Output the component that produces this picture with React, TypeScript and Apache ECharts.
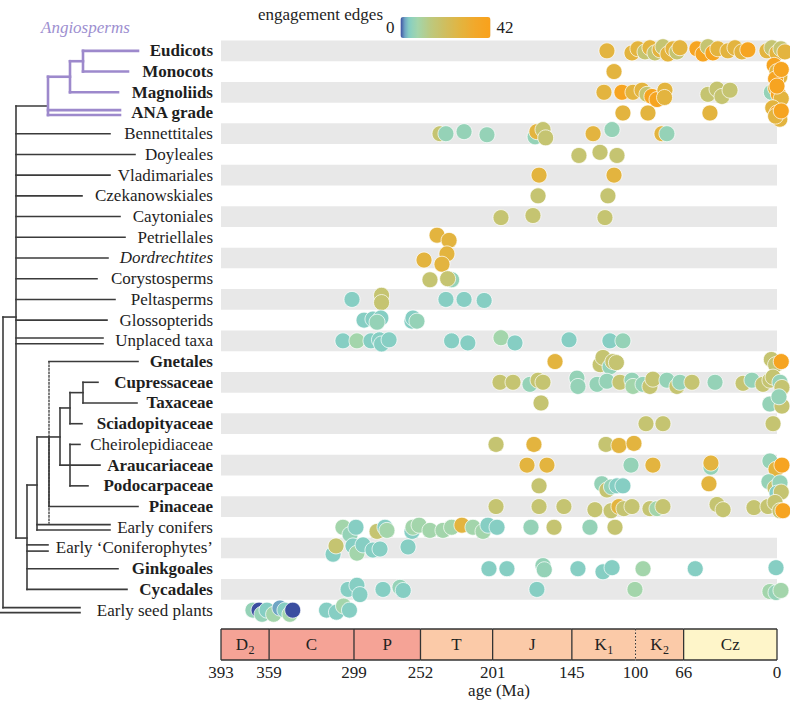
import React, { useEffect, useRef } from 'react';
import * as echarts from 'echarts';

// ---------- DATA ----------
const taxa = [
  'Eudicots', 'Monocots', 'Magnoliids', 'ANA grade', 'Bennettitales', 'Doyleales',
  'Vladimariales', 'Czekanowskiales', 'Caytoniales', 'Petriellales', 'Dordrechtites',
  'Corystosperms', 'Peltasperms', 'Glossopterids', 'Unplaced taxa', 'Gnetales',
  'Cupressaceae', 'Taxaceae', 'Sciadopityaceae', 'Cheirolepidiaceae', 'Araucariaceae',
  'Podocarpaceae', 'Pinaceae', 'Early conifers', 'Early \u2018Coniferophytes\u2019',
  'Ginkgoales', 'Cycadales', 'Early seed plants',
];
const taxaStyle = ['b', 'b', 'b', 'b', 'n', 'n', 'n', 'n', 'n', 'n', 'i', 'n', 'n', 'n', 'n',
  'b', 'b', 'b', 'b', 'n', 'b', 'b', 'b', 'n', 'n', 'b', 'b', 'n'];

// each point: [age (Ma), engagement edges, vertical jitter within row]
const eudicots = [[120.2, 28, 0], [102.5, 28, 0.1], [98.3, 28, -0.1], [93.3, 17, 0.05], [89.8, 28, -0.15], [86.3, 17, 0.1], [82.7, 28, -0.05], [80.6, 17, -0.2], [77.1, 28, 0.15], [73.5, 28, -0.1], [70.7, 17, 0.05], [68.6, 28, -0.15], [56.6, 39, -0.1], [52.3, 39, 0.15], [48.8, 17, -0.2], [45.3, 39, 0.1], [41.8, 28, -0.1], [34.7, 28, 0], [29.7, 28, -0.15], [24.8, 28, 0.05], [20.6, 39, -0.05], [7.1, 28, 0], [3.6, 17, -0.15], [0, 28, 0.1], [-2.8, 17, -0.1], [-5.6, 28, 0.05]];
const monocots = [[115.2, 28, 0], [2, 39, -0.3], [0, 28, 0], [-2, 28, 0.25], [1, 39, 0.35], [-3, 39, -0.1]];
const magnoliids = [[122.3, 28, 0], [109.6, 39, 0], [101.8, 28, 0], [95.4, 28, -0.1], [91.9, 17, 0.1], [88.4, 39, 0.2], [84.8, 39, 0.35], [79.2, 28, -0.1], [79.5, 28, 0.25], [48.8, 17, 0.1], [42.4, 17, -0.15], [38.9, 17, 0.2], [33.2, 17, -0.1], [4, 6, 0], [1, 28, -0.2], [-1, 39, 0.1], [-3, 28, 0.3], [0, 39, -0.3]];
const anaGrade = [[108.9, 28, 0], [91.2, 28, 0], [47.4, 28, 0], [3, 28, -0.25], [0, 39, 0], [-2, 28, 0.3], [1, 28, 0.15], [-3, 39, -0.1]];
const bennettitales = [[238.2, 17, 0], [234, 6, 0], [221.2, 6, -0.1], [205, 6, 0.05], [171, 6, 0.15], [169.7, 28, -0.1], [165.4, 17, -0.2], [163.5, 17, 0.2], [130, 28, 0], [116.6, 6, -0.2], [81.3, 28, 0], [77.8, 6, 0]];
const doyleales = [[140, 17, 0.05], [125.1, 17, -0.1], [113.1, 17, 0.05]];
const vladimariales = [[168.2, 28, 0], [115.2, 28, 0]];
const czekanowskiales = [[168.9, 17, 0], [119.5, 17, 0]];
const caytoniales = [[195.1, 17, 0.05], [172.5, 17, -0.05], [121.6, 17, 0.05]];
const petriellales = [[240.3, 28, -0.1], [231.8, 28, 0.15]];
const dordrechtites = [[249.5, 28, 0.1], [233.3, 28, -0.2], [236.8, 28, 0.3]];
const corystosperms = [[245.3, 17, 0.05], [230, 6, 0.05], [232.8, 17, 0]];
const peltasperms = [[300.4, 4, 0], [279.5, 17, -0.2], [279.5, 17, 0.15], [234, 4, 0], [221.2, 4, 0], [207, 4, 0.05]];
const glossopterids = [[291.9, 4, 0], [285.6, 4, -0.05], [280, 4, -0.1], [282.7, 6, 0.1], [258, 4, 0.05], [257.3, 4, -0.1], [254.5, 6, 0.05]];
const unplaced = [[306.8, 4, 0], [296.9, 8, 0], [287, 4, 0], [281, 4, -0.05], [279.5, 4, 0.15], [274.2, 4, -0.05], [230, 4, 0], [218.5, 4, 0.1], [195.1, 8, -0.15], [185.2, 4, 0.1], [147, 4, -0.05], [118.1, 4, 0], [108.9, 6, 0]];
const gnetales = [[156.9, 28, 0], [125, 17, 0.15], [123, 17, -0.2], [118, 6, 0.25], [116, 17, 0], [113.5, 17, 0.05], [4, 17, -0.1], [1, 17, 0.15], [-3, 39, 0]];
const cupressaceae = [[195.8, 17, 0], [186.6, 17, 0], [174.6, 6, 0.1], [168.9, 17, -0.1], [165.4, 17, 0], [141.4, 6, -0.2], [140.7, 6, 0.2], [127.2, 6, 0.1], [120.2, 6, -0.05], [111, 17, 0], [102.5, 6, -0.1], [101.8, 8, 0.2], [94.7, 6, 0.1], [89.8, 17, 0.2], [87.7, 17, -0.15], [77.8, 6, -0.1], [70.7, 17, 0.2], [68.6, 6, 0], [60.1, 17, 0], [43.8, 6, 0], [24, 17, 0.05], [17.7, 6, -0.1], [9.9, 17, 0.1], [5, 17, -0.1], [2.8, 17, -0.25], [-2.1, 6, 0], [-3.5, 17, 0.25]];
const taxaceae = [[166.8, 17, 0], [5, 6, 0.05], [-3.5, 17, 0.15], [-1.4, 6, -0.3]];
const sciadopityaceae = [[92.6, 17, 0], [80.6, 17, 0], [2.8, 17, 0]];
const cheirolepidiaceae = [[198.6, 17, 0], [171.8, 28, 0], [120.9, 17, 0], [111.7, 28, 0.05], [101.1, 28, -0.05]];
const araucariaceae = [[176.7, 28, 0], [162.6, 28, 0], [103.2, 6, 0], [87.7, 28, 0], [46.7, 6, 0.1], [46.7, 28, -0.1], [5, 6, -0.2], [0.7, 28, 0.2], [-3.5, 39, 0]];
const podocarpaceae = [[168.2, 17, 0], [123.8, 6, -0.1], [120.2, 17, 0.2], [117, 6, 0.05], [113.1, 4, 0], [108.9, 4, 0], [48.1, 28, -0.1], [5.7, 6, -0.2], [1.4, 17, 0.1], [-2.1, 6, -0.15], [0, 4, 0.35], [-3, 17, 0.3]];
const pinaceae = [[198.6, 17, 0], [168.2, 17, 0], [150.6, 17, 0], [128.7, 17, 0.15], [117.3, 17, 0.2], [111.7, 28, 0], [108.2, 17, 0.1], [102.5, 17, 0], [89.8, 17, 0.1], [84.8, 8, 0.1], [80.6, 17, 0], [42.4, 17, -0.1], [38.1, 17, 0.15], [16.3, 17, 0.05], [6.4, 17, 0], [1.4, 17, -0.2], [-2.1, 17, 0.2], [-4.2, 39, 0.2]];
const earlyConifers = [[306.8, 8, 0], [301.8, 6, 0.35], [297.6, 4, 0], [282.7, 17, 0.2], [277.1, 4, 0], [275.7, 8, 0.15], [258, 4, 0.2], [257.3, 8, 0], [253, 8, -0.1], [245.3, 8, 0.15], [236.1, 8, 0.15], [230, 8, 0], [222.7, 28, -0.1], [214.9, 8, 0], [207.8, 8, 0.2], [204.3, 4, -0.1], [197.9, 4, 0], [173.9, 6, 0], [157.6, 17, 0], [132.2, 6, 0], [114.5, 17, 0]];
const earlyConiferophytes = [[313.8, 4, 0.3], [311.7, 17, -0.1], [299.7, 4, -0.1], [296.9, 8, 0.25], [292.6, 4, -0.15], [285.6, 4, 0.1], [280.6, 4, 0.05], [260.8, 4, -0.05]];
const ginkgoales = [[203.6, 4, 0], [190.9, 4, 0], [165.4, 6, -0.15], [164.5, 6, 0.05], [140.7, 4, 0], [123, 4, 0.15], [116.6, 4, -0.05], [94.7, 8, 0], [57.8, 4, 0], [0.7, 4, -0.05]];
const cycadales = [[303.2, 4, 0], [296.9, 4, -0.2], [294.8, 4, 0.25], [278.5, 4, 0], [266.5, 6, -0.1], [264.2, 4, 0.05], [169.7, 4, 0], [100.4, 8, 0], [5, 8, 0.1], [0.7, 6, 0.15], [-2.8, 8, 0.05]];
const earlySeedPlants = [[370.4, 6, 0], [366.1, 0, 0], [364, 6, 0.2], [360.5, 4, 0], [355.8, 8, 0.2], [351.3, 2, -0.1], [347.8, 4, 0], [344.3, 8, 0.2], [342.3, 0, 0], [318.4, 4, 0], [311.4, 4, 0.1], [306.4, 8, -0.2], [302.2, 4, 0]];

const rowPoints = [eudicots, monocots, magnoliids, anaGrade, bennettitales, doyleales,
  vladimariales, czekanowskiales, caytoniales, petriellales, dordrechtites, corystosperms,
  peltasperms, glossopterids, unplaced, gnetales, cupressaceae, taxaceae, sciadopityaceae,
  cheirolepidiaceae, araucariaceae, podocarpaceae, pinaceae, earlyConifers,
  earlyConiferophytes, ginkgoales, cycadales, earlySeedPlants];

const periodNames = ['D', 'C', 'P', 'T', 'J', 'K', 'K', 'Cz'];
const periodSubs = ['2', '', '', '', '', '1', '2', ''];
const periodStart = [393, 359, 299, 252, 201, 145, 100, 66];
const periodEnd = [359, 299, 252, 201, 145, 100, 66, 0];
const periodColors = ['#f5a396', '#f5a396', '#f5a396', '#fbcaa8', '#fbcaa8', '#fbcaa8', '#fbcaa8', '#fef5c9'];
const periodDashedLeft = [false, false, false, false, false, false, true, false];
const ageTicks = [393, 359, 299, 252, 201, 145, 100, 66, 0];
const edgeMin = 0;
const edgeMax = 42;
const colorStops: [number, string][] = [[0, '#3b4ea0'], [2, '#6fa5c4'], [4, '#86cec3'], [8, '#a3d5ab'], [14, '#bcc97f'], [20, '#cdbf62'], [28, '#e3b43f'], [35, '#f2a82a'], [42, '#f9a11b']];

// ---------- LAYOUT ----------
const W = 790;
const H = 708;
const GL = 221;
const GR = 13;
const GT = 40.5;
const ROW_H = 20.714;
const GH = ROW_H * 28;
const TS_TOP = 629;
const TS_H = 31;
const FONT = '"Liberation Serif", "Times New Roman", serif';
const TREE_DARK = '#3b3b3b';
const TREE_PURPLE = '#9d89cc';

const rowY = (r: number) => GT + (r + 0.5) * ROW_H;

// tree segments: [x1, row1, x2, row2]
const purpleSegs = [[83, 0, 138, 0], [83, 1, 128, 1], [83, 0, 83, 1], [70, 0.5, 83, 0.5], [70, 2, 118, 2], [70, 0.5, 70, 2], [48, 1.25, 70, 1.25], [48, 2.86, 120, 2.86], [48, 3.1, 120, 3.1], [48, 1.25, 48, 3.1]];
const darkSegs = [
  [16, 2.66, 48, 2.66], [16, 2.66, 16, 23.52],
  [16, 4, 110, 4], [16, 5, 135, 5], [16, 6, 110, 6], [16, 7, 82, 7], [16, 8, 120, 8], [16, 9, 125, 9], [16, 10, 108, 10], [16, 11, 97, 11], [16, 12, 115, 12], [16, 13, 107, 13],
  [16, 13.86, 103, 13.86], [16, 14.14, 103, 14.14],
  [3, 12.85, 16, 12.85], [3, 12.85, 3, 26.88], [3, 26.88, 80, 26.88], [0, 27.12, 80, 27.12],
  [16, 23.52, 27, 23.52], [27, 20.96, 27, 26], [27, 23.85, 48, 23.85], [27, 24.15, 48, 24.15], [27, 25, 118, 25], [27, 26, 127, 26],
  [27, 20.96, 37, 20.96], [37, 18.64, 37, 23.13], [37, 22.87, 110, 22.87], [37, 23.13, 110, 23.13],
  [37, 18.64, 60, 18.64], [49, 18.64, 49, 22], [49, 22, 138, 22], [49, 15, 138, 15],
  [60, 17.24, 60, 20], [60, 17.24, 70, 17.24], [70, 16.5, 70, 18], [70, 16.5, 83, 16.5], [83, 16, 83, 17], [83, 16, 98, 16], [83, 17, 137, 17], [70, 18, 82, 18],
  [60, 20, 100, 20], [70, 19, 70, 21], [70, 19, 80, 19], [70, 21, 88, 21],
];
const dottedSegs = [[49, 15, 49, 22.8]];

function hexToRgb(h: string) {
  const n = parseInt(h.slice(1), 16);
  return [(n >> 16) & 255, (n >> 8) & 255, n & 255];
}
function buildColors() {
  const out: string[] = [];
  for (let v = edgeMin; v <= edgeMax; v++) {
    let i = 0;
    while (i < colorStops.length - 2 && v > colorStops[i + 1][0]) i++;
    const [v0, c0] = colorStops[i];
    const [v1, c1] = colorStops[i + 1];
    const t = Math.max(0, Math.min(1, (v - v0) / (v1 - v0)));
    const a = hexToRgb(c0), b = hexToRgb(c1);
    const c = a.map((x, k) => Math.round(x + (b[k] - x) * t));
    out.push(`rgb(${c[0]},${c[1]},${c[2]})`);
  }
  return out;
}

function segLines(segs: number[][], stroke: string, lw: number, dash?: number[]) {
  return segs.map(([x1, r1, x2, r2]) => ({
    type: 'line',
    shape: { x1, y1: rowY(r1), x2, y2: rowY(r2) },
    style: { stroke, lineWidth: lw, lineDash: dash, lineCap: 'square' },
    silent: true,
  }));
}

export default function App() {
  const ref = useRef<HTMLDivElement>(null);
  useEffect(() => {
    if (!ref.current) return;
    const chart = echarts.init(ref.current, undefined, { renderer: 'svg' });

    const scatterData: number[][] = [];
    rowPoints.forEach((pts, r) => {
      pts.forEach(([age, edges, dy]) => scatterData.push([age, r + dy, edges]));
    });
    const periodData = periodStart.map((s, i) => [s, periodEnd[i], i]);

    const option: any = {
      animation: false,
      grid: [
        { left: GL, right: GR, top: GT, height: GH, outerBoundsMode: 'none', containLabel: false },
        { left: GL, right: GR, top: TS_TOP, height: TS_H, outerBoundsMode: 'none', containLabel: false },
      ],
      xAxis: [
        { gridIndex: 0, type: 'value', inverse: true, min: 0, max: 393, show: false },
        {
          gridIndex: 1, type: 'value', inverse: true, min: 0, max: 393,
          axisLine: { show: false }, axisTick: { show: false }, splitLine: { show: false },
          axisLabel: {
            customValues: ageTicks, showMinLabel: true, showMaxLabel: true,
            fontFamily: FONT, fontSize: 17, color: '#222', margin: 4,
          },
          name: 'age (Ma)', nameLocation: 'middle', nameGap: 22,
          nameTextStyle: { fontFamily: FONT, fontSize: 17, color: '#222' },
        },
      ],
      yAxis: [
        { gridIndex: 0, type: 'value', inverse: true, min: -0.5, max: 27.5, show: false, position: 'right' },
        {
          gridIndex: 0, type: 'category', data: taxa, inverse: true, position: 'left',
          axisLine: { show: false }, axisTick: { show: false }, splitLine: { show: false },
          splitArea: { show: true, areaStyle: { color: ['#e8e8e8', 'rgba(255,255,255,0)'] } },
          axisLabel: {
            interval: 0, margin: 8,
            formatter: (v: string, i: number) => `{${taxaStyle[i]}|${v}}`,
            rich: {
              n: { fontFamily: FONT, fontSize: 17, color: '#1e1e1e' },
              b: { fontFamily: FONT, fontSize: 17, color: '#1e1e1e', fontWeight: 'bold' },
              i: { fontFamily: FONT, fontSize: 17, color: '#1e1e1e', fontStyle: 'italic' },
            },
          },
        },
        { gridIndex: 1, type: 'value', min: 0, max: 1, show: false },
      ],
      visualMap: {
        type: 'continuous', orient: 'horizontal', seriesIndex: 0, dimension: 2,
        min: edgeMin, max: edgeMax, calculable: false,
        left: 371, top: 2, itemWidth: 21, itemHeight: 90, textGap: 6,
        text: [String(edgeMax), String(edgeMin)],
        textStyle: { fontFamily: FONT, fontSize: 17, color: '#1e1e1e' },
        inRange: { color: buildColors() },
      },
      graphic: [
        {
          type: 'text', x: 383, y: 14,
          style: { text: 'engagement edges', fontFamily: FONT, fontSize: 17, fill: '#1e1e1e', align: 'right', verticalAlign: 'middle', textAlign: 'right', textVerticalAlign: 'middle' },
        },
        {
          type: 'text', x: 41, y: 27,
          style: { text: 'Angiosperms', fontFamily: FONT, fontSize: 17, fontStyle: 'italic', fill: '#9d8fd0', align: 'left', verticalAlign: 'middle', textAlign: 'left', textVerticalAlign: 'middle' },
        },
        {
          type: 'group',
          children: [
            ...segLines(darkSegs, TREE_DARK, 1.6),
            ...segLines(dottedSegs, TREE_DARK, 1.3, [1.5, 2]),
            ...segLines(purpleSegs, TREE_PURPLE, 2.6),
          ],
        },
      ],
      series: [
        {
          type: 'scatter', xAxisIndex: 0, yAxisIndex: 0, clip: false,
          symbolSize: 16,
          itemStyle: { borderColor: 'rgba(255,255,255,0.8)', borderWidth: 0.9, opacity: 1 },
          data: scatterData,
          z: 5,
        },
        {
          type: 'custom', xAxisIndex: 1, yAxisIndex: 2, clip: false,
          data: periodData,
          renderItem: (params: any, api: any) => {
            const s = api.value(0), e = api.value(1), idx = api.value(2);
            const pb = api.coord([s, 0]);
            const pt = api.coord([e, 1]);
            const x0 = pb[0], x1 = pt[0], yb = pb[1], yt = pt[1];
            const cx = (x0 + x1) / 2, cy = (yt + yb) / 2;
            const ls = { stroke: '#333', lineWidth: 1.3 };
            const children: any[] = [
              { type: 'rect', shape: { x: x0, y: yt, width: x1 - x0, height: yb - yt }, style: { fill: periodColors[idx] } },
              { type: 'line', shape: { x1: x0, y1: yt, x2: x1, y2: yt }, style: ls },
              { type: 'line', shape: { x1: x0, y1: yb, x2: x1, y2: yb }, style: ls },
              { type: 'line', shape: { x1: x0, y1: yt, x2: x0, y2: yb }, style: periodDashedLeft[idx] ? { stroke: '#333', lineWidth: 1, lineDash: [1.5, 2] } : ls },
            ];
            if (idx === periodStart.length - 1) {
              children.push({ type: 'line', shape: { x1, y1: yt, x2: x1, y2: yb }, style: ls });
            }
            const sub = periodSubs[idx];
            if (sub) {
              children.push({ type: 'text', style: { text: periodNames[idx], x: cx + 3, y: cy, fontFamily: FONT, fontSize: 17, fill: '#222', align: 'right', verticalAlign: 'middle', textAlign: 'right', textVerticalAlign: 'middle' } });
              children.push({ type: 'text', style: { text: sub, x: cx + 3.5, y: cy + 5, fontFamily: FONT, fontSize: 12, fill: '#222', align: 'left', verticalAlign: 'middle', textAlign: 'left', textVerticalAlign: 'middle' } });
            } else {
              children.push({ type: 'text', style: { text: periodNames[idx], x: cx, y: cy, fontFamily: FONT, fontSize: 17, fill: '#222', align: 'center', verticalAlign: 'middle', textAlign: 'center', textVerticalAlign: 'middle' } });
            }
            return { type: 'group', children };
          },
        },
      ],
    };
    chart.setOption(option);
    return () => chart.dispose();
  }, []);
  return <div ref={ref} style={{ position: 'fixed', left: 0, top: 0, width: W, height: H, background: '#fff' }} />;
}
